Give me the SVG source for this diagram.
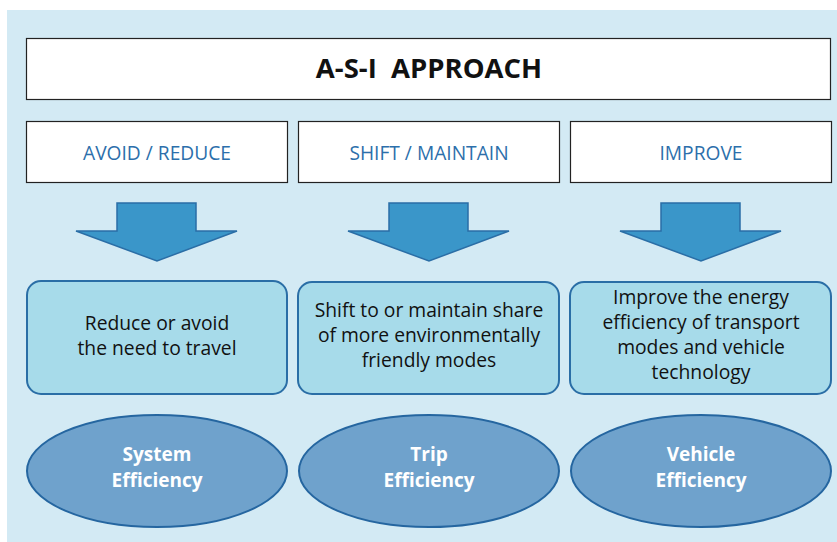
<svg xmlns="http://www.w3.org/2000/svg" width="837" height="542" viewBox="0 0 837 542">
<style>
.hdr{fill:#fff;stroke:#222;stroke-width:1.2}
.hdrt{font-family:"Open Sans","Liberation Sans",sans-serif;font-size:19.2px;fill:#2c6fab;text-anchor:middle}
.box{fill:#a7dbea;stroke:#2a6ea6;stroke-width:2}
.boxt{font-family:"Open Sans","Liberation Sans",sans-serif;font-size:19.3px;fill:#111;text-anchor:middle}
.ell{fill:#6fa2cc;stroke:#2566a0;stroke-width:2}
.ellt{font-family:"Open Sans","Liberation Sans",sans-serif;font-size:19px;font-weight:bold;fill:#fff;text-anchor:middle}
.arr{fill:#3a96c9;stroke:#2a6ea6;stroke-width:1.5}
</style>
<rect x="0" y="0" width="837" height="542" fill="#fff"/>
<rect x="7" y="10" width="830" height="532" fill="#d3eaf4"/>
<g id="title">
<rect class="hdr" x="26.5" y="38.5" width="804" height="61"/>
<text x="429" y="78" font-family="'Open Sans','Liberation Sans',sans-serif" font-size="27.5" font-weight="bold" fill="#111" text-anchor="middle" xml:space="preserve" style="white-space:pre">A-S-I  APPROACH</text>
</g>
<g id="avoid">
<rect class="hdr" x="26.5" y="121.5" width="261" height="61"/>
<text class="hdrt" x="157" y="160">AVOID / REDUCE</text>
</g>
<g id="shift">
<rect class="hdr" x="298.5" y="121.5" width="261" height="61"/>
<text class="hdrt" x="429" y="160">SHIFT / MAINTAIN</text>
</g>
<g id="improve">
<rect class="hdr" x="570.5" y="121.5" width="261" height="61"/>
<text class="hdrt" x="701" y="160">IMPROVE</text>
</g>
<g id="connectors">
<path class="arr" d="M117 203 H196 V231 H237 L157 261 L76 231 H117 Z"/>
<path class="arr" d="M389 203 H468 V231 H509 L429 261 L348 231 H389 Z"/>
<path class="arr" d="M661 203 H740 V231 H781 L701 261 L620 231 H661 Z"/>
</g>
<g id="desc-avoid">
<rect class="box" x="27" y="281" width="260" height="113" rx="14"/>
<text class="boxt" x="157" y="330">Reduce or avoid</text>
<text class="boxt" x="157" y="355">the need to travel</text>
</g>
<g id="desc-shift">
<rect class="box" x="298" y="282" width="261" height="112" rx="14"/>
<text class="boxt" x="429" y="317">Shift to or maintain share</text>
<text class="boxt" x="429" y="342">of more environmentally</text>
<text class="boxt" x="429" y="367">friendly modes</text>
</g>
<g id="desc-improve">
<rect class="box" x="570" y="282" width="261" height="112" rx="14"/>
<text class="boxt" x="701" y="304">Improve the energy</text>
<text class="boxt" x="701" y="329">efficiency of transport</text>
<text class="boxt" x="701" y="354">modes and vehicle</text>
<text class="boxt" x="701" y="379">technology</text>
</g>
<g id="system">
<ellipse class="ell" cx="157" cy="471" rx="130" ry="56"/>
<text class="ellt" x="157" y="461">System</text>
<text class="ellt" x="157" y="487">Efficiency</text>
</g>
<g id="trip">
<ellipse class="ell" cx="429" cy="471" rx="130" ry="56"/>
<text class="ellt" x="429" y="461">Trip</text>
<text class="ellt" x="429" y="487">Efficiency</text>
</g>
<g id="vehicle">
<ellipse class="ell" cx="701" cy="471" rx="130" ry="56"/>
<text class="ellt" x="701" y="461">Vehicle</text>
<text class="ellt" x="701" y="487">Efficiency</text>
</g>
</svg>
